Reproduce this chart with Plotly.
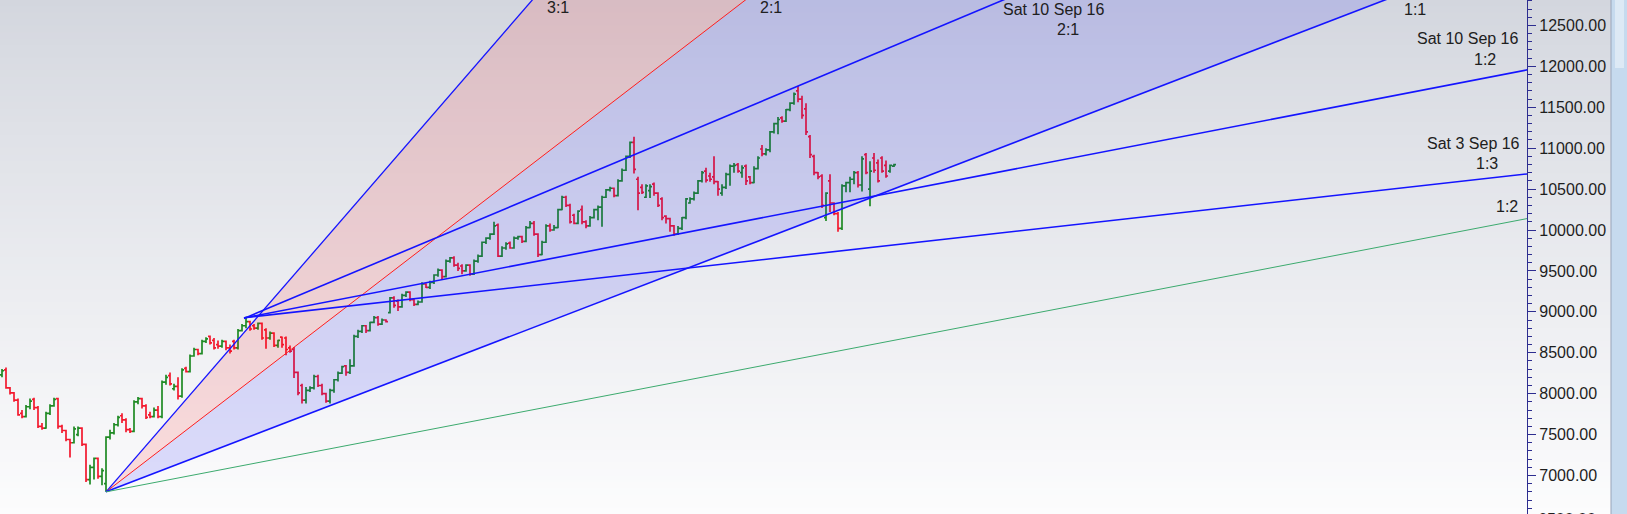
import plotly.graph_objects as go

# ---------------- data ----------------
opens = [
    8230, 8290, 8070, 8010, 7920, 7760, 7720, 7840, 7930, 7830,
    7600, 7580, 7760, 7850, 7940, 7600, 7550, 7440, 7400, 7500,
    7580, 7380, 6950, 7100, 7210, 6990, 6900, 7470, 7520, 7620,
    7730, 7680, 7560, 7540, 7900, 7940, 7850, 7740, 7720, 7800,
    7720, 8140, 8220, 8060, 8090, 7970, 8310, 8270, 8460, 8540,
    8490, 8640, 8700, 8650, 8600, 8580, 8640, 8560, 8640, 8560,
    8770, 8830, 8880, 8830, 8800, 8860, 8780, 8680, 8740, 8590,
    8690, 8680, 8560, 8540, 8260, 8100, 7920, 8040, 8070, 8210,
    8100, 8000, 7910, 8040, 8170, 8250, 8340, 8260, 8340, 8700,
    8760, 8830, 8770, 8870, 8930, 8850, 8900, 8990, 9170, 9130,
    9060, 9200, 9240, 9150, 9090, 9120, 9340, 9300, 9360, 9450,
    9510, 9430, 9620, 9660, 9570, 9560, 9500, 9570, 9460, 9620,
    9680, 9850, 9900, 9950, 10060, 9680, 9780, 9840, 9780, 9900,
    9920, 9860, 10030, 10080, 9950, 9700, 9850, 10050, 10000, 10030,
    10250, 10400, 10300, 10180, 10080, 10250, 10100, 10050, 10150, 10250,
    10280, 10400, 10490, 10510, 10420, 10600, 10730, 10900, 11070, 10620,
    10520, 10400, 10480, 10560, 10450, 10380, 10170, 10140, 10050, 9950,
    10020, 10150, 10330, 10380, 10450, 10600, 10720, 10660, 10650, 10590,
    10450, 10520, 10680, 10780, 10800, 10700, 10780, 10650, 10580, 10750,
    10990, 10930, 10980, 11200, 11300, 11370, 11330, 11470, 11550, 11700,
    11600, 11480, 11140, 10900, 10700, 10660, 10150, 10600, 10330, 10200,
    10020, 10540, 10580, 10620, 10700, 10550, 10920, 10500, 10880, 10820,
    10880, 10790, 10720, 10780,
]
highs = [
    8300, 8320, 8080, 8020, 7940, 7800, 7860, 7940, 7950, 7850,
    7640, 7780, 7870, 7950, 7950, 7620, 7560, 7450, 7600, 7600,
    7590, 7390, 7130, 7220, 7220, 7090, 7480, 7560, 7640, 7730,
    7760, 7700, 7580, 7920, 7960, 7950, 7870, 7780, 7830, 7850,
    8160, 8230, 8260, 8120, 8200, 8310, 8330, 8480, 8560, 8550,
    8660, 8690, 8710, 8680, 8650, 8660, 8650, 8600, 8660, 8790,
    8850, 8940, 8890, 8850, 8870, 8870, 8800, 8760, 8750, 8660,
    8700, 8700, 8590, 8570, 8270, 8120, 8080, 8090, 8230, 8230,
    8120, 8010, 8060, 8180, 8270, 8340, 8350, 8420, 8720, 8780,
    8840, 8840, 8880, 8950, 8950, 8920, 8910, 9180, 9190, 9150,
    9220, 9250, 9250, 9170, 9140, 9360, 9350, 9380, 9460, 9530,
    9520, 9640, 9670, 9680, 9600, 9580, 9580, 9580, 9640, 9700,
    9860, 9910, 9960, 10100, 10080, 9800, 9850, 9860, 9920, 9930,
    9930, 10050, 10110, 10110, 9960, 9870, 10070, 10080, 10060, 10260,
    10420, 10420, 10320, 10200, 10240, 10300, 10120, 10170, 10260, 10300,
    10420, 10500, 10530, 10520, 10620, 10750, 10910, 11080, 11140, 10650,
    10560, 10560, 10560, 10580, 10460, 10400, 10180, 10150, 10060, 10050,
    10160, 10390, 10400, 10470, 10610, 10720, 10760, 10700, 10900, 10600,
    10560, 10700, 10800, 10820, 10820, 10790, 10800, 10660, 10780, 10900,
    11040, 11000, 11210, 11310, 11380, 11390, 11480, 11560, 11680, 11760,
    11640, 11550, 11160, 10920, 10710, 10680, 10460, 10680, 10340, 10220,
    10560, 10590, 10650, 10720, 10720, 10900, 10940, 10840, 10940, 10860,
    10900, 10850, 10800, 10810,
]
lows = [
    8200, 8060, 7990, 7900, 7730, 7700, 7710, 7810, 7800, 7580,
    7560, 7570, 7740, 7840, 7570, 7520, 7420, 7220, 7390, 7480,
    7360, 6920, 6890, 6950, 6960, 6880, 6800, 7440, 7500, 7600,
    7640, 7530, 7520, 7530, 7870, 7820, 7690, 7700, 7710, 7700,
    7700, 8110, 8100, 8040, 7930, 7950, 8260, 8260, 8450, 8470,
    8480, 8620, 8600, 8540, 8550, 8560, 8530, 8490, 8540, 8540,
    8760, 8800, 8770, 8780, 8780, 8660, 8550, 8660, 8570, 8560,
    8560, 8470, 8500, 8190, 7980, 7880, 7880, 8020, 8050, 8080,
    7980, 7890, 7880, 8010, 8150, 8240, 8220, 8240, 8330, 8680,
    8740, 8740, 8760, 8860, 8830, 8840, 8870, 8980, 9050, 9010,
    9050, 9180, 9130, 9070, 9080, 9110, 9290, 9280, 9340, 9430,
    9400, 9420, 9600, 9550, 9500, 9460, 9490, 9440, 9450, 9600,
    9670, 9830, 9880, 9940, 9670, 9670, 9760, 9770, 9770, 9880,
    9840, 9850, 10020, 9930, 9670, 9690, 9840, 9980, 9990, 10020,
    10240, 10280, 10080, 10070, 10070, 10070, 10020, 10040, 10140, 10120,
    10040, 10390, 10470, 10400, 10410, 10590, 10720, 10880, 10690, 10240,
    10440, 10390, 10390, 10420, 10280, 10120, 10080, 9980, 9930, 9940,
    10000, 10130, 10320, 10360, 10440, 10580, 10580, 10590, 10560, 10420,
    10420, 10500, 10540, 10700, 10700, 10640, 10550, 10560, 10570, 10740,
    10900, 10910, 10950, 11180, 11170, 11310, 11320, 11450, 11530, 11560,
    11360, 11160, 10880, 10670, 10620, 10270, 10110, 10220, 10180, 9980,
    10000, 10460, 10460, 10560, 10520, 10470, 10680, 10290, 10700, 10580,
    10700, 10640, 10700, 10770,
]
closes = [
    8280, 8070, 8010, 7920, 7740, 7720, 7840, 7910, 7830, 7600,
    7580, 7760, 7850, 7930, 7600, 7550, 7440, 7400, 7570, 7580,
    7380, 6950, 7100, 7210, 6990, 7060, 7470, 7520, 7620, 7710,
    7680, 7560, 7540, 7900, 7940, 7850, 7710, 7720, 7800, 7720,
    8140, 8200, 8120, 8090, 7970, 8290, 8270, 8460, 8540, 8490,
    8640, 8670, 8620, 8560, 8580, 8640, 8560, 8520, 8560, 8770,
    8830, 8880, 8790, 8800, 8860, 8680, 8680, 8740, 8590, 8650,
    8600, 8540, 8520, 8260, 8010, 7920, 8040, 8070, 8210, 8100,
    8000, 7910, 8040, 8170, 8250, 8330, 8260, 8340, 8700, 8760,
    8830, 8770, 8870, 8930, 8850, 8900, 8880, 9170, 9080, 9060,
    9200, 9240, 9150, 9090, 9120, 9340, 9300, 9360, 9450, 9510,
    9430, 9620, 9660, 9570, 9530, 9500, 9570, 9460, 9620, 9680,
    9850, 9900, 9950, 10050, 9680, 9780, 9830, 9780, 9900, 9920,
    9860, 10030, 10080, 9950, 9700, 9850, 10050, 10000, 10030, 10250,
    10400, 10300, 10100, 10080, 10230, 10100, 10050, 10150, 10250, 10280,
    10400, 10490, 10510, 10420, 10600, 10730, 10900, 11070, 10740, 10450,
    10460, 10540, 10530, 10450, 10300, 10150, 10140, 10050, 9950, 10020,
    10150, 10380, 10380, 10450, 10600, 10700, 10610, 10620, 10590, 10500,
    10520, 10680, 10780, 10790, 10720, 10760, 10600, 10580, 10750, 10880,
    10930, 10980, 11200, 11300, 11350, 11330, 11470, 11550, 11660, 11600,
    11400, 11200, 10920, 10700, 10650, 10300, 10450, 10330, 10200, 10020,
    10540, 10580, 10620, 10700, 10550, 10870, 10700, 10720, 10730, 10600,
    10720, 10660, 10790, 10800,
]
bar_index = list(range(len(closes)))

# Gann fan anchored at the low
fan_origin_bar = 26
fan_origin_price = 6800
fan_unit = 18.8            # price per bar for the 1:1 line
fan_ratios = [3, 2, 1, 0.5]
fan_names = ["3:1", "2:1", "1:1", "1:2"]

# Gann lines anchored at the second pivot
gann_origin_bar = 61
gann_origin_price = 8930
gann_slopes = [20.5, 9.45, 5.48]
gann_names = ["2:1", "1:2", "1:3"]
gann_dates = ["Sat 10 Sep 16", "Sat 10 Sep 16", "Sat 3 Sep 16"]

# partially visible bottom tick label
cut_tick_value = 6500

# ---------------- layout constants ----------------
FIG_W, FIG_H = 1627, 514
PLOT_W = 1527
X_RANGE = [-0.5, -0.5 + PLOT_W / 4.0]
Y_RANGE = [6529.5, 12810.6]

BLUE = "#1414ff"
RED = "#ff1e1e"
GREEN = "#3caa6e"
FONT = "Liberation Sans, Arial, sans-serif"


def px(x):
    return x / PLOT_W


def py(y):
    return 1 - y / FIG_H


fig = go.Figure()

x_end = X_RANGE[1] + 5


def fan_y(ratio, x):
    return fan_origin_price + fan_unit * ratio * (x - fan_origin_bar)


# shaded sectors of the fan
fig.add_trace(go.Scatter(
    x=[fan_origin_bar, x_end, x_end, fan_origin_bar],
    y=[fan_origin_price, fan_y(3, x_end), fan_y(2, x_end), fan_origin_price],
    fill="toself", fillcolor="rgba(255,0,0,0.12)", line=dict(width=0),
    mode="lines", hoverinfo="skip", showlegend=False))
fig.add_trace(go.Scatter(
    x=[fan_origin_bar, x_end, x_end, fan_origin_bar],
    y=[fan_origin_price, fan_y(2, x_end), fan_y(1, x_end), fan_origin_price],
    fill="toself", fillcolor="rgba(0,0,255,0.12)", line=dict(width=0),
    mode="lines", hoverinfo="skip", showlegend=False))

# price bars
fig.add_trace(go.Ohlc(
    x=bar_index, open=opens, high=highs, low=lows, close=closes,
    increasing=dict(line=dict(color="#1f8a24", width=1.7)),
    decreasing=dict(line=dict(color="#f2192e", width=1.7)),
    tickwidth=0.5, hoverinfo="skip", showlegend=False))

# fan lines
fan_colors = [BLUE, RED, BLUE, GREEN]
fan_widths = [1.3, 1.0, 1.6, 1.0]
for r, c, w in zip(fan_ratios, fan_colors, fan_widths):
    fig.add_trace(go.Scatter(
        x=[fan_origin_bar, x_end], y=[fan_origin_price, fan_y(r, x_end)],
        mode="lines", line=dict(color=c, width=w),
        hoverinfo="skip", showlegend=False))

# gann lines from the second pivot
for s in gann_slopes:
    fig.add_trace(go.Scatter(
        x=[gann_origin_bar - 0.5, x_end],
        y=[gann_origin_price - s * 0.5, gann_origin_price + s * (x_end - gann_origin_bar)],
        mode="lines", line=dict(color=BLUE, width=1.6),
        hoverinfo="skip", showlegend=False))

# ---------------- background gradient (bands) ----------------
shapes = []
top_c = (211, 214, 222)
bot_c = (252, 252, 253)
N_BANDS = 80
for k in range(N_BANDS):
    t = (k + 0.5) / N_BANDS
    f = t ** 0.9
    col = tuple(round(top_c[j] + (bot_c[j] - top_c[j]) * f) for j in range(3))
    shapes.append(dict(
        type="rect", xref="paper", yref="paper", layer="below",
        x0=0, x1=px(1612), y0=1 - (k + 1) / N_BANDS - 0.002, y1=1 - k / N_BANDS,
        fillcolor="rgb(%d,%d,%d)" % col, line=dict(width=0)))

# scroll strip on the far right
shapes.append(dict(type="rect", xref="paper", yref="paper", layer="above",
                   x0=px(1611), x1=px(1627), y0=0, y1=1,
                   fillcolor="#c6daee", line=dict(width=0)))
shapes.append(dict(type="rect", xref="paper", yref="paper", layer="above",
                   x0=px(1615), x1=px(1624), y0=py(68), y1=1,
                   fillcolor="#dde9f5", line=dict(width=0)))
shapes.append(dict(type="line", xref="paper", yref="paper", layer="above",
                   x0=px(1611), x1=px(1611), y0=0, y1=1,
                   line=dict(color="#98a3b8", width=1)))

# ---------------- labels ----------------
labels = [
    ("3:1", 558, 8),
    ("2:1", 771, 8),
    (gann_dates[0], 1054, 9),
    (gann_names[0], 1068, 29),
    ("1:1", 1415, 9),
    (gann_dates[1], 1468, 39),
    (gann_names[1], 1485, 59),
    (gann_dates[2], 1473, 143),
    (gann_names[2], 1487, 163),
    (fan_names[3], 1507, 206),
]
annotations = [
    dict(text=t, x=px(x), y=py(y), xref="paper", yref="paper",
         xanchor="center", yanchor="middle", showarrow=False,
         font=dict(family=FONT, size=16, color="#202020"))
    for t, x, y in labels
]
annotations.append(dict(
    text="%.2f" % cut_tick_value, x=px(1536), y=py(519), xref="paper", yref="paper",
    xanchor="left", yanchor="middle", showarrow=False,
    font=dict(family=FONT, size=16, color="#1e1e1e")))

fig.update_layout(
    width=FIG_W, height=FIG_H,
    margin=dict(l=0, r=FIG_W - PLOT_W, t=0, b=0, pad=0),
    paper_bgcolor="white", plot_bgcolor="rgba(0,0,0,0)",
    shapes=shapes, annotations=annotations, showlegend=False,
    xaxis=dict(range=X_RANGE, visible=False, rangeslider=dict(visible=False),
               showgrid=False, zeroline=False, fixedrange=True),
    yaxis=dict(range=Y_RANGE, side="right", showgrid=False, zeroline=False,
               showline=True, linecolor="#2d2d90", linewidth=1.2,
               ticks="outside", ticklen=8, tickwidth=1, tickcolor="#2d2d90",
               tick0=0, dtick=500, tickformat=".2f",
               minor=dict(dtick=100, ticklen=4, ticks="outside", tickcolor="#2d2d90"),
               tickfont=dict(family=FONT, size=16, color="#1e1e1e"),
               fixedrange=True),
)

fig.write_html(
    "out.html",
    config={"displayModeBar": False},
    post_script="document.body.style.margin='0px';document.body.style.overflow='hidden';",
)
